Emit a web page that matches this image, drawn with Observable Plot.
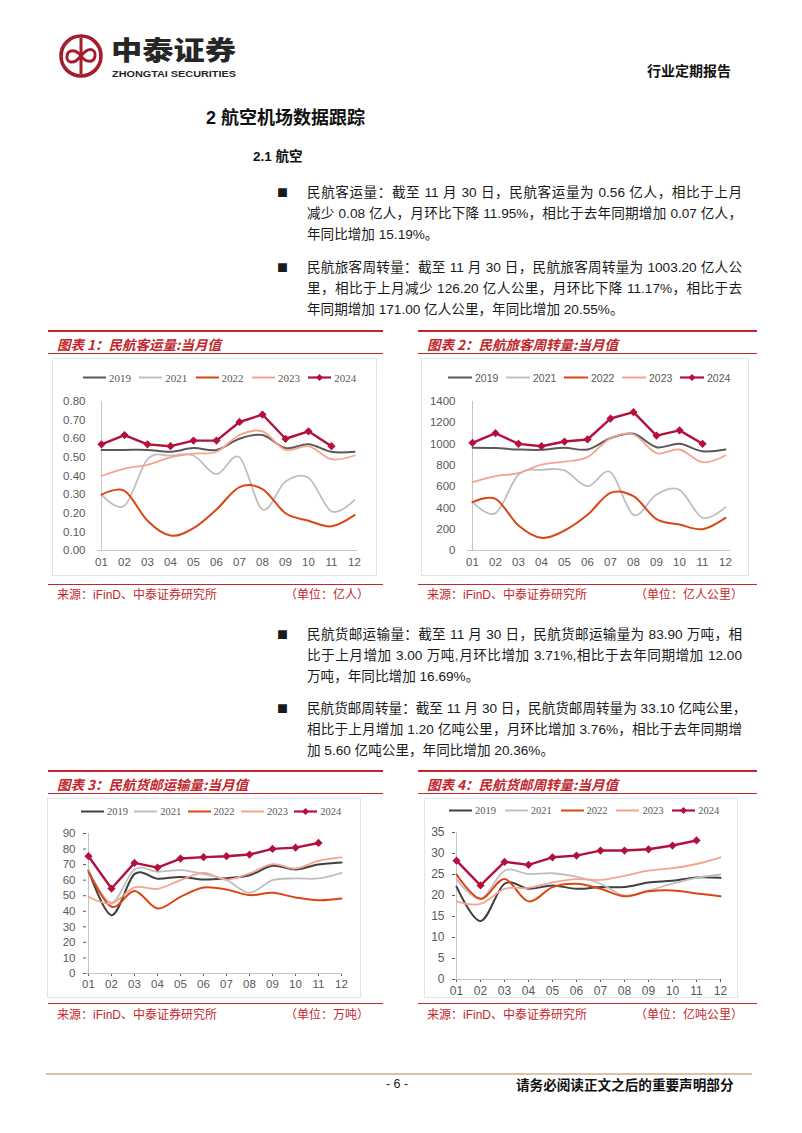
<!DOCTYPE html>
<html>
<head>
<meta charset="utf-8">
<script src="https://cdn.jsdelivr.net/npm/d3@7"></script>
<script src="https://cdn.jsdelivr.net/npm/@observablehq/plot@0.6"></script>
<style>
  body { margin: 0; background: #fff; }
  #page { position: relative; width: 802px; height: 1133px; overflow: hidden; background: #fff;
          font-family: "Liberation Sans", "Noto Sans CJK SC", sans-serif; color: #1a1a1a; }
  .t { position: absolute; white-space: nowrap; }
  .para { position: absolute; left: 307px; width: 435px; font-size: 13.6px; line-height: 21px; }
  .para div { white-space: nowrap; height: 21px; }
  .para .j { text-align: justify; text-align-last: justify; }
  .bul { position: absolute; left: 277px; font-size: 11px; line-height: 21px; font-family: "Noto Sans CJK SC"; }
  .red { background: #c1272d; position: absolute; }
  .ctitle { position: absolute; font-family: "Noto Sans CJK SC"; font-weight: bold; font-style: italic;
            font-size: 13.5px; color: #c1272d; line-height: 20px; white-space: nowrap; }
  .src { position: absolute; font-family: "Liberation Sans", "Noto Sans CJK SC"; font-size: 12px; color: #c1272d;
         line-height: 18px; white-space: nowrap; }
  .box { position: absolute; border: 1px solid #e4e4e4; box-sizing: border-box; }
  .leg { position: absolute; white-space: nowrap; color: #595959; line-height: 14px; }
</style>
</head>
<body>
<div id="page"></div>
<script>
// ---------------- data ----------------
const months = ["01","02","03","04","05","06","07","08","09","10","11","12"];
const years = ["2019","2021","2022","2023","2024"];

// 图表1 民航客运量 (亿人)
const pax2019 = [0.54,0.54,0.54,0.53,0.55,0.54,0.60,0.62,0.55,0.57,0.53,0.53];
const pax2021 = [0.30,0.24,0.49,0.51,0.51,0.41,0.50,0.22,0.37,0.39,0.21,0.27];
const pax2022 = [0.30,0.32,0.16,0.08,0.12,0.22,0.34,0.33,0.20,0.16,0.13,0.19];
const pax2023 = [0.40,0.44,0.46,0.50,0.52,0.53,0.62,0.64,0.54,0.56,0.49,0.51];
const pax2024 = [0.57,0.62,0.57,0.56,0.59,0.59,0.69,0.73,0.60,0.64,0.56];
const paxTicks = [0,0.1,0.2,0.3,0.4,0.5,0.6,0.7,0.8];

// 图表2 民航旅客周转量 (亿人公里)
const rpk2019 = [965,962,949,946,965,949,1055,1096,971,1002,933,949];
const rpk2021 = [454,351,714,758,752,604,736,335,526,570,307,407];
const rpk2022 = [454,485,235,119,188,335,542,510,294,244,200,307];
const rpk2023 = [642,698,727,808,836,877,1055,1090,915,949,830,893];
const rpk2024 = [1012,1102,1002,980,1024,1043,1240,1300,1080,1129,1003];
const rpkTicks = [0,200,400,600,800,1000,1200,1400];

// 图表3 民航货邮运输量 (万吨)
const cargo2019 = [66.4,37.5,63.9,60.9,62.1,60.4,61.3,63.2,69.2,66.9,70.1,71.4];
const cargo2021 = [66.4,45.6,66.9,65.4,66.4,63.9,60.0,51.9,60.0,61.1,61.1,64.7];
const cargo2022 = [65.4,42.9,53.1,41.8,49.3,55.3,54.0,50.4,51.9,48.9,47.1,48.2];
const cargo2023 = [49.3,45.0,55.3,54.4,60.0,64.7,60.4,64.3,70.3,67.5,72.4,74.6];
const cargo2024 = [75.4,54.6,71.1,68.1,73.9,74.8,75.4,76.5,80.1,80.9,83.9];
const cargoTicks = [0,10,20,30,40,50,60,70,80,90];

// 图表4 民航货邮周转量 (亿吨公里)
const ftk2019 = [22.1,13.9,22.8,21.6,22.4,21.6,22.0,22.0,23.1,23.5,24.3,24.2];
const ftk2021 = [23.9,19.2,25.9,25.1,25.3,24.5,22.8,20.0,21.2,22.8,24.2,25.0];
const ftk2022 = [25.0,19.2,23.9,18.6,22.0,22.8,21.6,19.8,21.0,21.2,20.5,19.8];
const ftk2023 = [18.6,18.0,21.6,21.8,23.1,23.9,23.7,24.7,25.9,26.5,27.5,29.1];
const ftk2024 = [28.3,22.4,28.0,27.3,29.1,29.5,30.7,30.7,31.0,31.9,33.1];
const ftkTicks = [0,5,10,15,20,25,30,35];

// ---------------- page ----------------
const page = document.getElementById("page");
function el(tag, cls, html, css) {
  const e = document.createElement(tag);
  if (cls) e.className = cls;
  if (html != null) e.innerHTML = html;
  if (css) Object.assign(e.style, css);
  page.appendChild(e);
  return e;
}

// header logo
el("div", null, `
<svg width="200" height="60" viewBox="0 0 200 60" style="position:absolute;left:55px;top:29px;overflow:visible">
  <circle cx="26" cy="27" r="20" fill="none" stroke="#a51d2d" stroke-width="3.6"/>
  <line x1="26" y1="9" x2="26" y2="45" stroke="#a51d2d" stroke-width="3"/>
  <path d="M26 27 C 18 37, 11 33, 12 27 C 13 20, 21 20, 26 27 C 31 34, 39 34, 40 27 C 41 20, 34 17, 26 27" fill="none" stroke="#a51d2d" stroke-width="3"/>
  <text x="56" y="30.5" font-family="Noto Sans CJK SC" font-weight="900" font-size="26" fill="#262626" textLength="125" lengthAdjust="spacingAndGlyphs">中泰证券</text>
  <text x="57" y="47.5" font-family="Liberation Sans" font-weight="bold" font-size="9.5" fill="#262626" textLength="124" lengthAdjust="spacingAndGlyphs">ZHONGTAI SECURITIES</text>
</svg>`, {position:"absolute", left:"0px", top:"0px"});

el("div", "t", "行业定期报告", {left:"647px", top:"60px", fontSize:"14px", lineHeight:"20px", fontFamily:"Noto Sans CJK SC", fontWeight:"bold", color:"#111"});
el("div", "t", "2 航空机场数据跟踪", {left:"206px", top:"106px", fontSize:"18px", lineHeight:"24px", fontFamily:"Liberation Sans, Noto Sans CJK SC", fontWeight:"bold", color:"#111"});
el("div", "t", "2.1 航空", {left:"253px", top:"147px", fontSize:"13.5px", lineHeight:"20px", fontFamily:"Liberation Sans, Noto Sans CJK SC", fontWeight:"bold", color:"#111"});

function para(top, lines) {
  el("div", "bul", "■", {top: top + "px"});
  return el("div", "para", lines.map((l, i) =>
    `<div class="${i < lines.length - 1 ? "j" : ""}">${l}</div>`).join(""), {top: top + "px"});
}
para(182, ["民航客运量：截至 11 月 30 日，民航客运量为 0.56 亿人，相比于上月",
           "减少 0.08 亿人，月环比下降 11.95%，相比于去年同期增加 0.07 亿人，",
           "年同比增加 15.19%。"]);
para(257, ["民航旅客周转量：截至 11 月 30 日，民航旅客周转量为 1003.20 亿人公",
           "里，相比于上月减少 126.20 亿人公里，月环比下降 11.17%，相比于去",
           "年同期增加 171.00 亿人公里，年同比增加 20.55%。"]);
para(624, ["民航货邮运输量：截至 11 月 30 日，民航货邮运输量为 83.90 万吨，相",
           "比于上月增加 3.00 万吨,月环比增加 3.71%,相比于去年同期增加 12.00",
           "万吨，年同比增加 16.69%。"]);
para(698, ["民航货邮周转量：截至 11 月 30 日，民航货邮周转量为 33.10 亿吨公里，",
           "相比于上月增加 1.20 亿吨公里，月环比增加 3.76%，相比于去年同期增",
           "加 5.60 亿吨公里，年同比增加 20.36%。"]);

// footer
el("div", null, "", {position:"absolute", left:"46px", top:"1073px", width:"706px", height:"2px", background:"#dcc0a8"});
el("div", "t", "- 6 -", {left:"372px", width:"50px", textAlign:"center", top:"1075px", fontSize:"12.5px", lineHeight:"18px", fontFamily:"Liberation Sans", color:"#222"});
el("div", "t", "请务必阅读正文之后的重要声明部分", {left:"516px", top:"1074px", fontSize:"13.6px", lineHeight:"20px", fontFamily:"Noto Sans CJK SC", fontWeight:"bold", color:"#111"});

// ---------------- charts ----------------
const diamond = {
  draw(ctx, size) {
    const h = Math.sqrt(size / Math.PI) * 1.25;
    ctx.moveTo(0, -h); ctx.lineTo(h, 0); ctx.lineTo(0, h); ctx.lineTo(-h, 0); ctx.closePath();
  }
};

function frame(x0, x1, yTop, yTitleLine, ySrcLine, title, srcY, unit) {
  el("div", "red", "", {left: x0 + "px", top: (yTop - 1) + "px", width: (x1 - x0) + "px", height: "2px"});
  el("div", "red", "", {left: x0 + "px", top: yTitleLine + "px", width: (x1 - x0) + "px", height: "1px"});
  el("div", "red", "", {left: x0 + "px", top: ySrcLine + "px", width: (x1 - x0) + "px", height: "1px"});
  el("div", "ctitle", title, {left: (x0 + 9) + "px", top: (yTop + 3) + "px"});
  el("div", "src", "来源：iFinD、中泰证券研究所", {left: (x0 + 9) + "px", top: (srcY - 9) + "px"});
  el("div", "src", unit, {right: (802 - (x1 - 14)) + "px", top: (srcY - 9) + "px"});
}

function legend(cfg) {
  years.forEach((y, i) => {
    const x = cfg.x0 + i * cfg.step;
    const c = cfg.colors[i];
    const mk = y === "2024"
      ? `<path d="M${cfg.lw / 2} 3 L${cfg.lw / 2 + 3.5} 6.5 L${cfg.lw / 2} 10 L${cfg.lw / 2 - 3.5} 6.5Z" fill="${c}"/>` : "";
    el("div", "leg",
      `<svg width="${cfg.lw}" height="13" style="vertical-align:top;overflow:visible"><line x1="0" x2="${cfg.lw}" y1="6.5" y2="6.5" stroke="${c}" stroke-width="${y === "2024" ? 2.2 : 2}"/>${mk}</svg><span style="margin-left:3px">${y}</span>`,
      {left: x + "px", top: (cfg.y - 7) + "px", fontFamily: cfg.font, fontSize: cfg.fs + "px"});
  });
}

function chart(cfg) {
  const widths = [2, 1.8, 2, 1.8, 2.4];
  const marks = [
    Plot.ruleY([0], {stroke: "#c4c4c4", strokeWidth: 1}),
    Plot.ruleX([months[0]], {stroke: "#c4c4c4", strokeWidth: 1})
  ];
  cfg.series.forEach((vals, i) => {
    const data = vals.map((v, j) => ({m: months[j], v}));
    if (years[i] === "2024") {
      marks.push(Plot.line(data, {x: "m", y: "v", stroke: cfg.colors[i], strokeWidth: widths[i]}));
      marks.push(Plot.dot(data, {x: "m", y: "v", r: 3.3, symbol: diamond, fill: cfg.colors[i], stroke: "none"}));
    } else {
      marks.push(Plot.line(data, {x: "m", y: "v", stroke: cfg.colors[i], strokeWidth: widths[i], curve: "cardinal"}));
    }
  });
  const svg = Plot.plot({
    width: cfg.w, height: cfg.h,
    marginLeft: cfg.mL, marginRight: cfg.mR, marginTop: cfg.mT, marginBottom: cfg.mB,
    style: {fontFamily: "Liberation Sans, Arial, sans-serif", fontSize: cfg.fs + "px", color: "#595959",
            background: "transparent", overflow: "visible"},
    x: {type: "point", domain: months, padding: 0, label: null, tickSize: cfg.ts, tickPadding: cfg.xp},
    y: {domain: [cfg.ticks[0], cfg.ticks[cfg.ticks.length - 1]], ticks: cfg.ticks, tickFormat: d3.format(cfg.fmt),
        label: null, tickSize: cfg.ts, tickPadding: cfg.yp},
    marks
  });
  Object.assign(svg.style, {position: "absolute", left: cfg.left + "px", top: cfg.top + "px"});
  page.appendChild(svg);
}

const colsA = ["#595959", "#bfbfbf", "#dc4514", "#f5a38f", "#b3113d"];
const colsB = ["#404040", "#bfbfbf", "#dc4514", "#f5a38f", "#b3113d"];

// Chart 1
el("div", "box", "", {left: "52px", top: "358px", width: "325px", height: "218px"});
frame(48, 383, 331, 353, 584, "图表 1：民航客运量:当月值", 595, "（单位：亿人）");
legend({x0: 83, step: 56.3, y: 378, lw: 23, colors: colsA, font: "Liberation Serif", fs: 11});
chart({left: 52, top: 388, w: 320, h: 184, mL: 45, mR: 15, mT: 13, mB: 22, ts: 0, xp: 7, yp: 12, fs: 11.5,
       ticks: paxTicks, fmt: ".2f", colors: colsA, series: [pax2019, pax2021, pax2022, pax2023, pax2024]});

// Chart 2
el("div", "box", "", {left: "421px", top: "358px", width: "328px", height: "218px"});
frame(418, 757, 331, 353, 584, "图表 2：民航旅客周转量:当月值", 595, "（单位：亿人公里）");
legend({x0: 448, step: 58, y: 378, lw: 24, colors: colsA, font: "Liberation Sans", fs: 10.5});
chart({left: 420, top: 388, w: 320, h: 184, mL: 47, mR: 10, mT: 13, mB: 22, ts: 0, xp: 7, yp: 12, fs: 11.5,
       ticks: rpkTicks, fmt: "d", colors: colsA, series: [rpk2019, rpk2021, rpk2022, rpk2023, rpk2024]});

// Chart 3
el("div", "box", "", {left: "47px", top: "798px", width: "314px", height: "200px"});
frame(48, 383, 771, 793, 1003, "图表 3：民航货邮运输量:当月值", 1015, "（单位：万吨）");
legend({x0: 81, step: 53.3, y: 812, lw: 23, colors: colsB, font: "Liberation Serif", fs: 10.5});
chart({left: 47, top: 820, w: 305, h: 175, mL: 39, mR: 10, mT: 13, mB: 22, ts: 3, xp: 3, yp: 8, fs: 11.5,
       ticks: cargoTicks, fmt: "d", colors: colsB, series: [cargo2019, cargo2021, cargo2022, cargo2023, cargo2024]});

// Chart 4
el("div", "box", "", {left: "424px", top: "798px", width: "314px", height: "200px"});
frame(418, 757, 771, 793, 1003, "图表 4：民航货邮周转量:当月值", 1015, "（单位：亿吨公里）");
legend({x0: 449, step: 55.8, y: 811, lw: 23, colors: colsB, font: "Liberation Serif", fs: 10.5});
chart({left: 424, top: 818, w: 306, h: 181, mL: 31, mR: 10, mT: 14, mB: 20, ts: 3, xp: 4, yp: 8, fs: 12,
       ticks: ftkTicks, fmt: "d", colors: colsB, series: [ftk2019, ftk2021, ftk2022, ftk2023, ftk2024]});
</script>
</body>
</html>
